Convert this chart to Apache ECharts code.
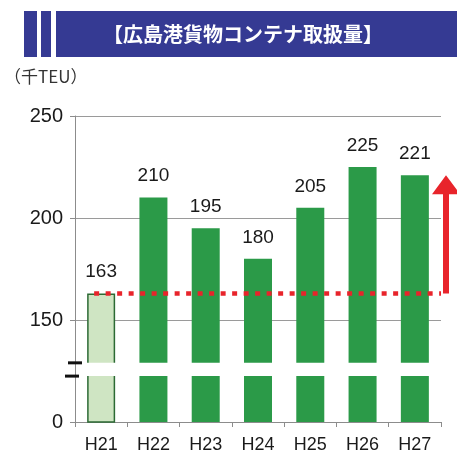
<!DOCTYPE html>
<html>
<head>
<meta charset="utf-8">
<script src="https://cdn.jsdelivr.net/npm/echarts@6/dist/echarts.min.js"></script>
<style>
  html, body { margin: 0; padding: 0; background: #fff; }
  #chart { width: 457px; height: 460px; }
</style>
</head>
<body>
<div id="chart"></div>
<script>
// 広島港貨物コンテナ取扱量（千TEU）
const categories = ['H21', 'H22', 'H23', 'H24', 'H25', 'H26', 'H27'];
const values = [163, 210, 195, 180, 205, 225, 221];
const baseLevel = 163;      // 赤い点線（H21の水準）
const arrowTop = 221;       // 矢印の先端
const breakRange = [122.5, 129]; // 省略部分（縦軸の波線）
const axisMin = 100;        // 表示上は「0」

const GRID = { left: 75, right: 16, top: 116, bottom: 38 };

let myChart = echarts.init(document.getElementById('chart'));

myChart.setOption({
  animation: false,
  grid: GRID,
  xAxis: {
    type: 'category',
    data: categories,
    axisLine: { lineStyle: { color: '#8c8c8c', width: 1 } },
    axisTick: { show: true, length: 5, lineStyle: { color: '#8c8c8c' } },
    axisLabel: { color: '#1a1a1a', fontSize: 18, fontFamily: 'Liberation Sans', margin: 14 }
  },
  yAxis: {
    type: 'value',
    min: axisMin,
    max: 250,
    interval: 50,
    axisLine: { show: true, lineStyle: { color: '#8c8c8c', width: 1 } },
    axisTick: { show: true, length: 5, lineStyle: { color: '#8c8c8c' } },
    axisLabel: {
      color: '#1a1a1a', fontSize: 20, fontFamily: 'Liberation Sans', margin: 12,
      formatter: function (v) { return v === axisMin ? '0' : String(v); }
    },
    splitLine: { lineStyle: { color: '#9a9a9a', width: 1 } }
  },
  series: [
    {
      type: 'bar',
      barWidth: 28,
      data: values.map(function (v, i) {
        if (i === 0) {
          return { value: v, itemStyle: { color: '#cfe5c3', borderColor: '#2c6a34', borderWidth: 1.5 } };
        }
        return v;
      }),
      itemStyle: { color: '#2b9a48' },
      label: {
        show: true,
        position: 'top',
        distance: 12,
        color: '#1a1a1a',
        fontSize: 19,
        fontFamily: 'Liberation Sans'
      }
    }
  ]
});

// 注記（タイトル帯・単位・省略線・点線・矢印）をピクセル座標で重ねる
function px(idx, v) {
  return myChart.convertToPixel({ gridIndex: 0 }, [idx, v]);
}
const right = 457 - GRID.right;
const pBase = px(0, baseLevel);
const pTop = px(0, arrowTop);
const yB1 = px(0, breakRange[1])[1];
const yB0 = px(0, breakRange[0])[1];
const arrowX = 446;

myChart.setOption({
  graphic: [
    // タイトル帯
    { type: 'rect', shape: { x: 24, y: 11, width: 13, height: 46 }, style: { fill: '#353a93' } },
    { type: 'rect', shape: { x: 41, y: 11, width: 10, height: 46 }, style: { fill: '#353a93' } },
    { type: 'rect', shape: { x: 56, y: 11, width: 401, height: 46 }, style: { fill: '#353a93' } },
    {
      type: 'text', x: 243, y: 34,
      style: {
        text: '【広島港貨物コンテナ取扱量】', fill: '#fff', fontSize: 20, fontWeight: 'bold',
        fontFamily: 'Noto Sans CJK JP', align: 'center', verticalAlign: 'middle'
      }
    },
    {
      type: 'text', x: 4, y: 77,
      style: {
        text: '（千TEU）', fill: '#333', fontSize: 17,
        fontFamily: 'Noto Sans CJK JP', align: 'left', verticalAlign: 'middle'
      }
    },
    // 省略部分
    { type: 'rect', z: 100, shape: { x: GRID.left + 1, y: yB1, width: right - GRID.left, height: yB0 - yB1 }, style: { fill: '#ffffff' } },
    { type: 'line', z: 101, shape: { x1: 68, y1: yB1, x2: 82, y2: yB1 }, style: { stroke: '#111', lineWidth: 3 } },
    { type: 'line', z: 101, shape: { x1: 65, y1: yB0, x2: 79, y2: yB0 }, style: { stroke: '#111', lineWidth: 3 } },
    // 赤い点線
    {
      type: 'line', z: 102,
      shape: { x1: pBase[0] - 7, y1: pBase[1], x2: right, y2: pBase[1] },
      style: { stroke: '#e8242b', lineWidth: 4.5, lineDash: [5, 6.5] }
    },
    // 赤い矢印
    {
      type: 'polygon', z: 102,
      shape: {
        points: [
          [arrowX - 3, pBase[1]], [arrowX + 3, pBase[1]],
          [arrowX + 3, pTop[1] + 19], [arrowX + 14, pTop[1] + 19],
          [arrowX, pTop[1]],
          [arrowX - 14, pTop[1] + 19], [arrowX - 3, pTop[1] + 19]
        ]
      },
      style: { fill: '#e8242b' }
    }
  ]
});
</script>
</body>
</html>
